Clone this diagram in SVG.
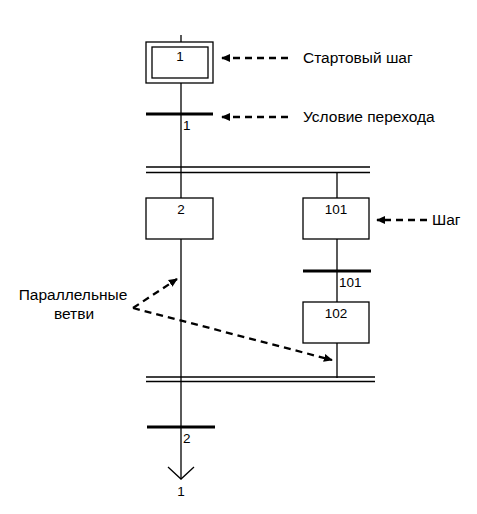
<svg xmlns="http://www.w3.org/2000/svg" width="477" height="514" viewBox="0 0 477 514">
<style>
.ln{stroke:#000;stroke-width:1.3;fill:none}
.bx{stroke:#000;stroke-width:1.3;fill:#fff}
.bar{stroke:#000;stroke-width:3;fill:none}
.dl{stroke:#000;stroke-width:1.5;fill:none}
.da{stroke:#000;stroke-width:2.3;fill:none;stroke-dasharray:7,5}
.t{font-family:"Liberation Sans",Arial,sans-serif;font-size:15.5px;fill:#000}
.n{font-family:"Liberation Sans",Arial,sans-serif;font-size:13.5px;fill:#000}
</style>
<defs>
<marker id="ah" viewBox="0 0 10 10" refX="9" refY="5" markerWidth="9" markerHeight="9" orient="auto" markerUnits="userSpaceOnUse">
<path d="M0,0.5 L10,5 L0,9.5 Z" fill="#000"/>
</marker>
</defs>
<rect width="477" height="514" fill="#fff"/>
<g id="connectors">
<line class="ln" x1="181" y1="35" x2="181" y2="479"/>
<line class="ln" x1="337" y1="172" x2="337" y2="378"/>
<polyline class="ln" points="168,467 181,479 194,467"/>
<line class="dl" x1="146" y1="167" x2="370" y2="167"/>
<line class="dl" x1="146" y1="172.5" x2="370" y2="172.5"/>
<line class="dl" x1="146" y1="377" x2="375" y2="377"/>
<line class="dl" x1="146" y1="381.5" x2="375" y2="381.5"/>
</g>
<g id="step1">
<rect class="bx" x="146" y="42" width="67" height="41"/>
<rect class="bx" x="152" y="47" width="56" height="31"/>
<text class="n" x="180" y="61" text-anchor="middle">1</text>
</g>
<g id="trans1">
<line class="bar" x1="146" y1="114" x2="213" y2="114"/>
<text class="n" x="183" y="130">1</text>
</g>
<g id="step2">
<rect class="bx" x="146" y="198" width="67" height="41"/>
<text class="n" x="181" y="214" text-anchor="middle">2</text>
</g>
<g id="step101">
<rect class="bx" x="303" y="198" width="66" height="41"/>
<text class="n" x="336" y="214" text-anchor="middle">101</text>
</g>
<g id="trans101">
<line class="bar" x1="303" y1="271" x2="371" y2="271"/>
<text class="n" x="339" y="287">101</text>
</g>
<g id="step102">
<rect class="bx" x="303" y="302" width="66" height="41"/>
<text class="n" x="336" y="318" text-anchor="middle">102</text>
</g>
<g id="trans2">
<line class="bar" x1="147" y1="427" x2="215" y2="427"/>
<text class="n" x="183" y="443">2</text>
</g>
<g id="end-label">
<text class="n" x="181" y="496" text-anchor="middle">1</text>
</g>
<g id="annotations">
<line class="da" x1="288" y1="58" x2="222" y2="58" marker-end="url(#ah)"/>
<text class="t" x="303" y="63">Стартовый шаг</text>
<line class="da" x1="288" y1="117" x2="222" y2="117" marker-end="url(#ah)"/>
<text class="t" x="303" y="122">Условие перехода</text>
<line class="da" x1="427" y1="220" x2="377" y2="220" marker-end="url(#ah)"/>
<text class="t" x="432" y="225">Шаг</text>
<line class="da" x1="133" y1="308" x2="177" y2="279" marker-end="url(#ah)"/>
<line class="da" x1="133" y1="308" x2="332" y2="360" marker-end="url(#ah)"/>
<text class="t" x="73" y="300" text-anchor="middle">Параллельные</text>
<text class="t" x="74" y="319" text-anchor="middle">ветви</text>
</g>
</svg>
